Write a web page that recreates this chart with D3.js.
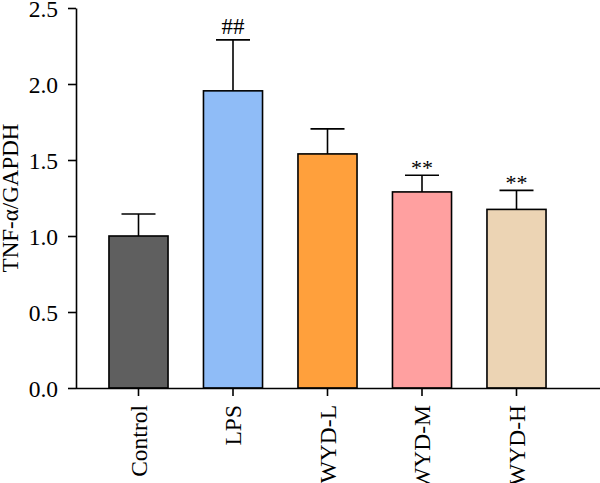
<!DOCTYPE html>
<html>
<head>
<meta charset="utf-8">
<script src="https://cdn.jsdelivr.net/npm/d3@7"></script>
<style>
  body { margin: 0; background: #fff; }
  text { font-family: "Liberation Serif", "DejaVu Serif", serif; fill: #000; }
</style>
</head>
<body>
<div class="box"></div>
<script>
// DATA
const groups = ['Control', 'LPS', 'WYD-L', 'WYD-M', 'WYD-H'];
const means = [1.0, 1.955, 1.54, 1.29, 1.175];
const errs = [0.145, 0.335, 0.165, 0.11, 0.125];
const marks = ['', '##', '', '**', '**'];
const colors = ['#5f5f5f', '#8fbcf7', '#ffa03c', '#ffa0a0', '#ecd4b4'];
const yTicks = [0, 0.5, 1.0, 1.5, 2.0, 2.5];

// SETUP
const dims = {width: 600, height: 483};
const svg = d3.select('.box')
              .append('svg')
              .attr('width', dims.width)
              .attr('height', dims.height);

const axisX = 76;   // y axis position
const y = d3.scaleLinear().domain([0, 2.5]).range([388, 8]);
const x = d3.scaleBand()
            .domain(groups)
            .range([91.25, 563.75])
            .paddingInner(0.375)
            .paddingOuter(0.1875);

// bars
svg.append('g')
   .selectAll('rect')
   .data(groups)
   .enter()
   .append('rect')
   .attr('x', d => x(d))
   .attr('width', x.bandwidth())
   .attr('y', (d, i) => y(means[i]))
   .attr('height', (d, i) => y(0) - y(means[i]))
   .attr('fill', (d, i) => colors[i])
   .attr('stroke', '#000')
   .attr('stroke-width', 1.6);

// error bars (upper only)
const eb = svg.append('g').attr('stroke', '#000').attr('stroke-width', 1.6);
groups.forEach((g, i) => {
  const cx = x(g) + x.bandwidth() / 2;
  eb.append('line')
    .attr('x1', cx).attr('x2', cx)
    .attr('y1', y(means[i])).attr('y2', y(means[i] + errs[i]));
  eb.append('line')
    .attr('x1', cx - 17).attr('x2', cx + 17)
    .attr('y1', y(means[i] + errs[i])).attr('y2', y(means[i] + errs[i]));
});

// significance marks
svg.append('g')
   .selectAll('text')
   .data(groups)
   .enter()
   .append('text')
   .attr('x', d => x(d) + x.bandwidth() / 2)
   .attr('y', (d, i) => y(means[i] + errs[i]) - (marks[i] === '**' ? 0 : 6))
   .attr('text-anchor', 'middle')
   .style('font-size', (d, i) => marks[i] === '**' ? '22px' : '23px')
   .text((d, i) => marks[i]);

// y axis
const yAxis = svg.append('g')
   .attr('transform', `translate(${axisX},0)`)
   .call(d3.axisLeft(y).tickValues(yTicks).tickFormat(d3.format('.1f')).tickSize(8).tickSizeOuter(0));
yAxis.selectAll('line, path').attr('stroke', '#000').attr('stroke-width', 1.6);
yAxis.selectAll('text').style('font-size', '23.5px').attr('x', -18).attr('dy', '0.34em');

// x axis
const xAxis = svg.append('g')
   .attr('transform', 'translate(0,388)')
   .call(d3.axisBottom(x).tickSize(8).tickSizeOuter(0));
xAxis.select('.domain').attr('d', `M${axisX},0.5H600`);
xAxis.selectAll('line, path').attr('stroke', '#000').attr('stroke-width', 1.6);
xAxis.selectAll('text')
     .style('font-size', '23.5px')
     .attr('transform', 'rotate(-90)')
     .attr('text-anchor', 'end')
     .attr('x', -17)
     .attr('y', 0)
     .attr('dy', '0.34em');

// y label
svg.append('text')
   .attr('transform', `translate(18,${y(1.25)}) rotate(-90)`)
   .attr('text-anchor', 'middle')
   .style('font-size', '23px')
   .text('TNF-α/GAPDH');
</script>
</body>
</html>
